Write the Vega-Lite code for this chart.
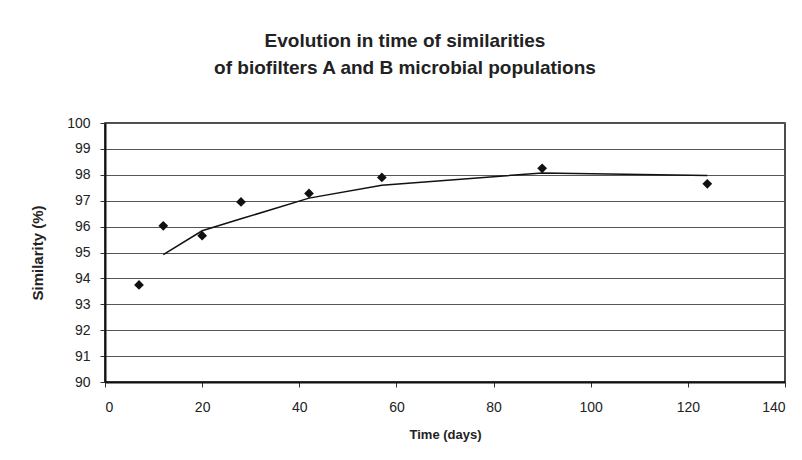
{
  "$schema": "https://vega.github.io/schema/vega-lite/v6.json",
  "width": 680,
  "height": 259,
  "autosize": {"type": "none"},
  "padding": {"left": 105, "top": 123, "right": 17, "bottom": 78},
  "background": "white",
  "title": {
    "text": ["Evolution in time of similarities", "of biofilters A and B microbial populations"],
    "font": "Liberation Sans, Arial",
    "fontSize": 19,
    "fontWeight": "bold",
    "color": "#222222",
    "lineHeight": 27,
    "offset": 38,
    "dx": -40,
    "anchor": "middle"
  },
  "datasets": {
    "points": [
      {"day": 7, "similarity": 93.75},
      {"day": 12, "similarity": 96.03},
      {"day": 20, "similarity": 95.65},
      {"day": 28, "similarity": 96.95},
      {"day": 42, "similarity": 97.28},
      {"day": 57, "similarity": 97.9},
      {"day": 90, "similarity": 98.25},
      {"day": 124, "similarity": 97.65}
    ],
    "trend": [
      {"day": 12, "similarity": 94.92},
      {"day": 20, "similarity": 95.84},
      {"day": 28, "similarity": 96.3},
      {"day": 42, "similarity": 97.1},
      {"day": 57, "similarity": 97.6},
      {"day": 90, "similarity": 98.07},
      {"day": 124, "similarity": 97.97}
    ]
  },
  "encoding": {
    "x": {
      "field": "day", "type": "quantitative",
      "scale": {"domain": [0, 140], "nice": false, "zero": false},
      "axis": {"title": "Time (days)", "values": [0, 20, 40, 60, 80, 100, 120, 140], "grid": false, "titlePadding": 14, "labelPadding": 13, "labelOverlap": false}
    },
    "y": {
      "field": "similarity", "type": "quantitative",
      "scale": {"domain": [90, 100], "nice": false, "zero": false},
      "axis": {"title": "Similarity (%)", "values": [90, 91, 92, 93, 94, 95, 96, 97, 98, 99, 100], "grid": true, "titlePadding": 21, "labelPadding": 10, "titleFontSize": 15, "labelOverlap": false}
    }
  },
  "layer": [
    {
      "data": {"name": "trend"},
      "mark": {"type": "line", "color": "#111111", "strokeWidth": 1.5}
    },
    {
      "data": {"name": "points"},
      "mark": {"type": "point", "shape": "diamond", "filled": true, "color": "#111111", "opacity": 1, "size": 95}
    }
  ],
  "config": {
    "view": {"stroke": "#111111", "strokeWidth": 1.5},
    "axis": {
      "domainColor": "#111111",
      "domainWidth": 2,
      "tickColor": "#333333",
      "tickSize": 5,
      "tickWidth": 1,
      "gridColor": "#555555",
      "gridWidth": 1.2,
      "gridOpacity": 1,
      "labelFont": "Liberation Sans, Arial",
      "labelFontSize": 14,
      "labelColor": "#222222",
      "titleFont": "Liberation Sans, Arial",
      "titleFontSize": 13,
      "titleFontWeight": "bold",
      "titleColor": "#222222"
    }
  }
}
